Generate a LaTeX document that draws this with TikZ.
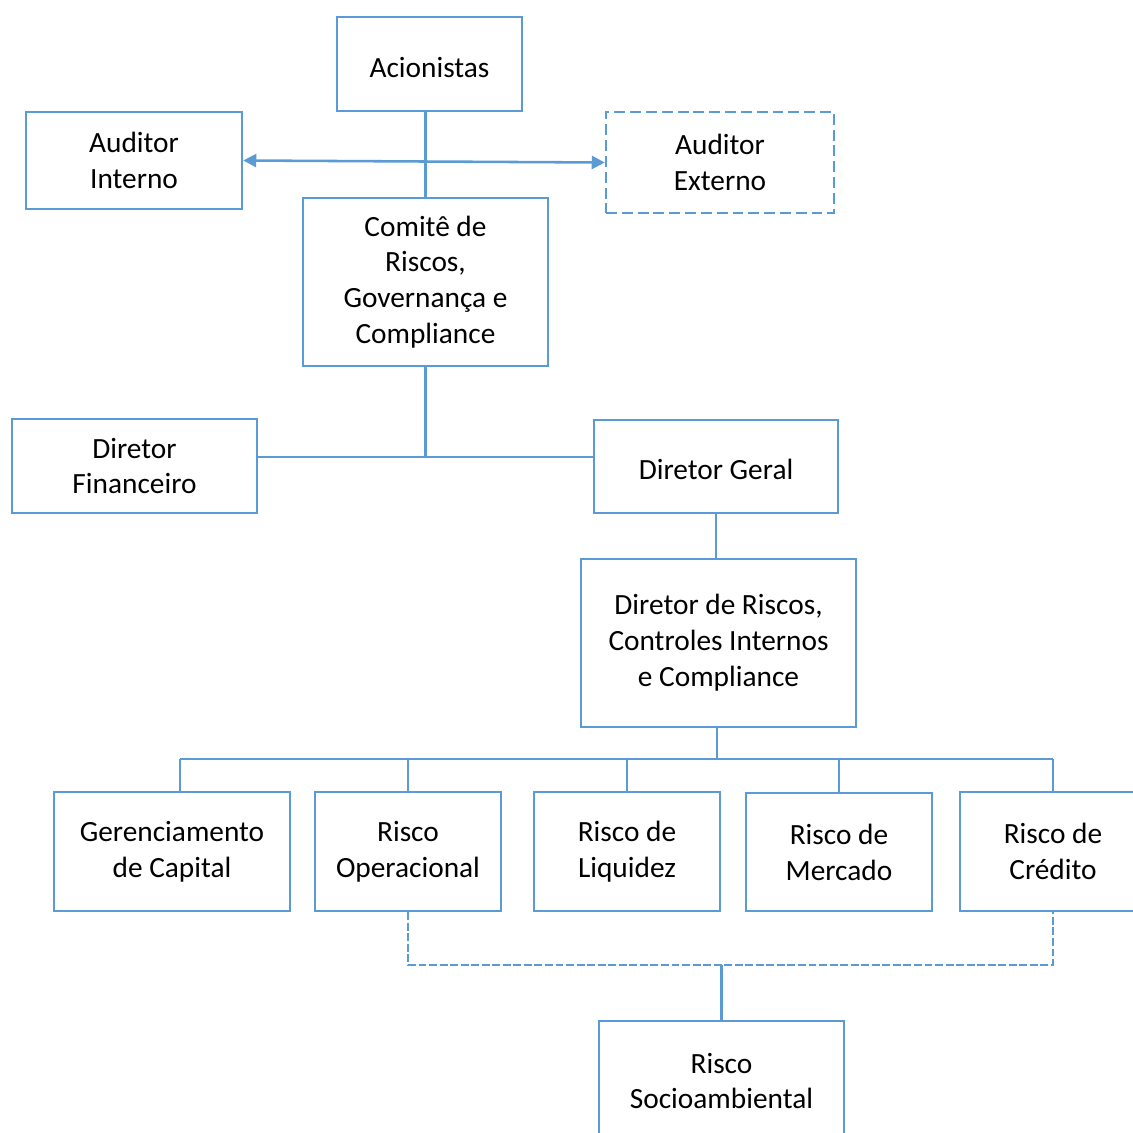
\documentclass[tikz,border=0pt]{standalone}
\usepackage{fontspec}
\setmainfont{Carlito}
\usetikzlibrary{arrows.meta,positioning}
\definecolor{office}{RGB}{91,155,213}
\tikzset{
  >={Triangle[length=2.6mm,width=2.6mm]},
  box/.style={draw=office,line width=1.45pt,fill=white,align=center,
    inner sep=0pt,font=\fontsize{16.7}{20.4}\selectfont,
    execute at begin node={\rule{0pt}{15pt}}},
  dashbox/.style={box,dash pattern=on 6.2pt off 2.8pt},
  link/.style={draw=office,line width=1.45pt},
  dashlink/.style={link,dash pattern=on 4.5pt off 1.5pt},
}
\begin{document}
\begin{tikzpicture}[x=0.02cm,y=-0.02cm]
  \useasboundingbox (0,0) rectangle (1133,1133);
  % top level
  \node[box,minimum width=3.70cm,minimum height=1.88cm] (ac) at (429.5,64) {Acionistas};
  \node[box,minimum width=4.32cm,minimum height=1.94cm] (ai) at (134,160.5) {Auditor\\Interno};
  \node[dashbox,minimum width=4.56cm,minimum height=2.02cm] (ae) at (720,162.5) {Auditor\\Externo};
  \node[box,minimum width=4.90cm,minimum height=3.36cm] (cm) at (425.5,282) {Comitê de\\Riscos,\\Governança e\\Compliance};
  % directors
  \node[box,minimum width=4.90cm,minimum height=1.88cm] (df) at (134.5,466) {Diretor\\Financeiro};
  \node[box,minimum width=4.88cm,minimum height=1.86cm] (dg) at (716,466.5) {Diretor Geral};
  \node[box,minimum width=5.50cm,minimum height=3.36cm] (dr) at (718.5,643) {Diretor de Riscos,\\Controles Internos\\e Compliance};
  % risk areas
  \node[box,minimum width=4.72cm,minimum height=2.38cm] (gc) at (172,851.5) {Gerenciamento\\de Capital};
  \node[box,minimum width=3.72cm,minimum height=2.38cm] (ro) at (408,851.5) {Risco\\Operacional};
  \node[box,minimum width=3.72cm,minimum height=2.38cm] (rl) at (627,851.5) {Risco de\\Liquidez};
  \node[box,minimum width=3.72cm,minimum height=2.36cm] (rm) at (839,852) {Risco de\\Mercado};
  \node[box,minimum width=3.72cm,minimum height=2.38cm] (rc) at (1053,851.5) {Risco de\\Crédito};
  \node[box,minimum width=4.90cm,minimum height=2.40cm] (rs) at (721.5,1081) {Risco\\Socioambiental};
  % connectors
  \draw[link] (cm.north) -- (cm.north |- ac.south);
  \draw[link,<->] (ai.east) -- (ae.west);
  \coordinate (jn) at (425.5,457);
  \draw[link] (cm.south) -- (jn);
  \draw[link] (df.east |- jn) -- (jn) -- (dg.west |- jn);
  \draw[link] (dg.south) -- (dg.south |- dr.north);
  \coordinate (bus) at (717,759);
  \draw[link] (dr.south -| bus) -- (bus);
  \coordinate (gctop) at ([xshift=0.16cm]gc.north);
  \draw[link] (gctop |- bus) -- (rc.north |- bus);
  \draw[link] (gctop |- bus) -- (gctop);
  \foreach \n in {ro,rl,rm,rc}
    \draw[link] (\n.north |- bus) -- (\n.north);
  \coordinate (dsh) at (721.5,965);
  \draw[dashlink] (ro.south) -- (ro.south |- dsh) -- (rc.south |- dsh) -- (rc.south);
  \draw[link] (dsh) -- (rs.north);
\end{tikzpicture}
\end{document}
